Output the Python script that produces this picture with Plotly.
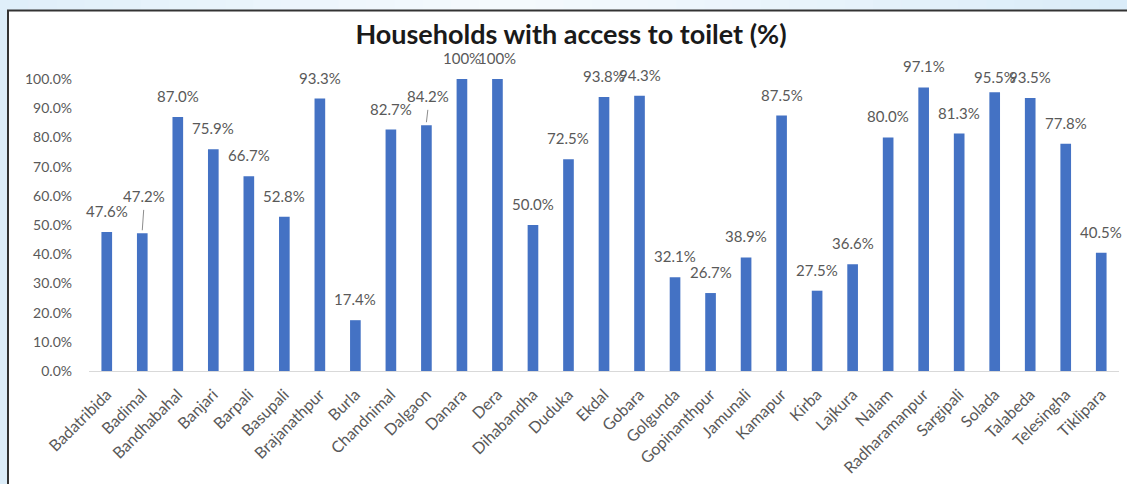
import plotly.graph_objects as go

# Villages and share of households with toilet access (%)
villages = [
    "Badatribida", "Badimal", "Bandhabahal", "Banjari", "Barpali", "Basupali",
    "Brajanathpur", "Burla", "Chandnimal", "Dalgaon", "Danara", "Dera",
    "Dihabandha", "Duduka", "Ekdal", "Gobara", "Golgunda", "Gopinanthpur",
    "Jamunali", "Kamapur", "Kirba", "Lajkura", "Nalam", "Radharamanpur",
    "Sargipali", "Solada", "Talabeda", "Telesingha", "Tiklipara",
]
access_pct = [
    47.6, 47.2, 87.0, 75.9, 66.7, 52.8,
    93.3, 17.4, 82.7, 84.2, 100, 100,
    50.0, 72.5, 93.8, 94.3, 32.1, 26.7,
    38.9, 87.5, 27.5, 36.6, 80.0, 97.1,
    81.3, 95.5, 93.5, 77.8, 40.5,
]
y_ticks = [0, 10, 20, 30, 40, 50, 60, 70, 80, 90, 100]
y_tick_text = ["0.0%", "10.0%", "20.0%", "30.0%", "40.0%", "50.0%",
               "60.0%", "70.0%", "80.0%", "90.0%", "100.0%"]

# Figure geometry (pixels)
W, H = 1127, 484
L, R, T, B = 89, 8, 79, 113
PW, PH = W - L - R, H - T - B

BAR = "#4472C4"
TXT = "#595959"
FONT = "Lato"

# Per-label nudges (x px, extra y px) where labels were moved off the bar top
label_nudge = {"Badimal": (2, 16), "Dalgaon": (2, 8), "Solada": (0, -6)}
leader_lines = {"Badimal", "Dalgaon"}


def px_x(px):
    return (px - L) / PW


def px_y(py):
    return (H - B - py) / PH


fig = go.Figure()
fig.add_trace(go.Bar(
    x=villages, y=access_pct, width=0.3,
    marker=dict(color=BAR, line=dict(width=0)),
    hoverinfo="x+y",
))

annotations = []
shapes = []
for name, v in zip(villages, access_pct):
    text = "100%" if v == 100 else f"{v:.1f}%"
    dx, dy = label_nudge.get(name, (0, 0))
    annotations.append(dict(
        x=name, y=v, xref="x", yref="y", text=text, showarrow=False,
        yanchor="bottom", xanchor="center", xshift=dx, yshift=10 + dy,
        font=dict(family=FONT, size=15, color=TXT),
    ))
    if name in leader_lines:
        i = villages.index(name)
        shapes.append(dict(
            type="line", xref="x", yref="y",
            x0=i, x1=i + 0.04, y0=v + 1.0, y1=v + 1.0 + dy / PH * 100 + 1.5,
            line=dict(color="#8c8c8c", width=1),
        ))

# Outer page tint: light blue edges fading to near white along the top
bg_steps = 40
for k in range(bg_steps):
    t = abs((k + 0.5) / bg_steps - 0.45) / 0.55
    t = min(1.0, t)
    r = int(246 - (246 - 218) * t)
    g = int(251 - (251 - 236) * t)
    b = int(254 - (254 - 249) * t)
    x0 = W * k / bg_steps
    x1 = W * (k + 1) / bg_steps + 1
    shapes.append(dict(
        type="rect", xref="paper", yref="paper", layer="below",
        x0=px_x(x0), x1=px_x(x1), y0=px_y(10), y1=px_y(0),
        fillcolor=f"rgb({r},{g},{b})", line=dict(width=0),
    ))

# White chart box with dark frame (runs past the right and bottom edges)
shapes.append(dict(
    type="rect", xref="paper", yref="paper", layer="below",
    x0=px_x(8), x1=px_x(W + 20), y0=px_y(H + 20), y1=px_y(10.5),
    fillcolor="white", line=dict(color="#333333", width=2),
))

fig.update_layout(
    width=W, height=H,
    margin=dict(l=L, r=R, t=T, b=B),
    paper_bgcolor="#dcedf9",
    plot_bgcolor="rgba(0,0,0,0)",
    showlegend=False,
    bargap=0.7,
    title=dict(
        text="<b>Households with access to toilet (%)</b>",
        x=571 / W, xref="container", xanchor="center",
        y=1 - 35 / H, yref="container", yanchor="middle",
        font=dict(family=FONT, size=27, color="#1a1a1a"),
    ),
    xaxis=dict(
        type="category", tickangle=-45,
        tickfont=dict(family=FONT, size=16, color=TXT),
        showline=True, linecolor="#d9d9d9", linewidth=1,
        showgrid=False, ticks="", ticklabelstandoff=7,
        range=[-0.5, len(villages) - 0.5],
    ),
    yaxis=dict(
        range=[0, 100], tickvals=y_ticks, ticktext=y_tick_text,
        tickfont=dict(family=FONT, size=14, color=TXT),
        showgrid=False, zeroline=False, showline=False, ticks="",
        ticklabelstandoff=16,
    ),
    annotations=annotations,
    shapes=shapes,
)

fig.write_html("out.html")
